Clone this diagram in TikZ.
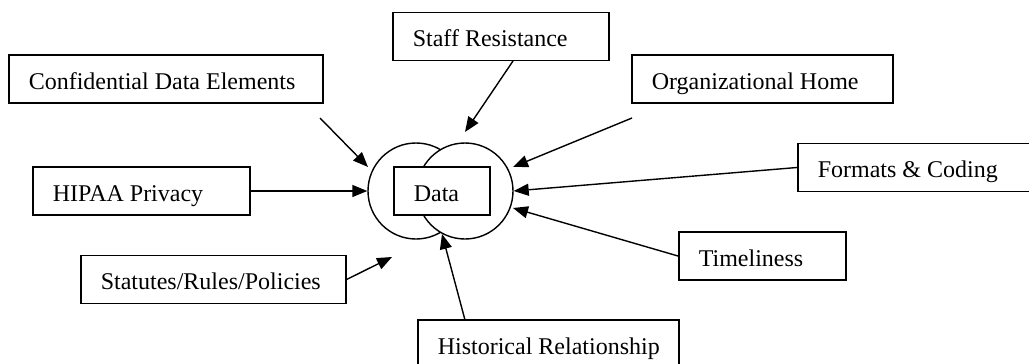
\documentclass[tikz,border=0pt]{standalone}
\usepackage{fontspec}
\setmainfont{Liberation Serif}
\usetikzlibrary{arrows.meta,calc}
\newcommand{\bx}[2]{\makebox[#1pt][l]{#2}}
\begin{document}
\begin{tikzpicture}[x=1pt,y=-1pt,
  box/.style={draw,line width=1.6pt,fill=white,anchor=west,minimum height=48pt,
    inner xsep=20pt,inner ysep=0pt,text height=20pt,text depth=0pt,
    font=\fontsize{24}{26}\selectfont},
  ring/.style={draw,line width=1.4pt,fill=white,circle,minimum size=96pt,inner sep=0pt},
  arr/.style={line width=1.4pt,-{Triangle[length=15pt,width=12pt]}}]
\useasboundingbox (0,0) rectangle (1029,364);
\clip (0,0) rectangle (1029,364);
% boxes
\node[box] (conf) at (8,79) {\bx{274}{Confidential Data Elements}};
\node[box] (staff) at (392,36.5) {\bx{176}{Staff Resistance}};
\node[box] (org) at (631,79) {\bx{221}{Organizational Home}};
\node[box] (hipaa) at (32,191) {\bx{177}{HIPAA Privacy}};
\node[box] (fmt) at (797,167.5) {\bx{200}{Formats \& Coding}};
\node[box] (time) at (678,256) {\bx{127}{Timeliness}};
\node[box] (stat) at (80,279.5) {\bx{225}{Statutes/Rules/Policies}};
\node[box] (hist) at (417,344) {\bx{221}{Historical Relationship}};
% circles and data
\node[ring] (cl) at (416,191) {};
\node[ring] (cr) at (465,191) {};
\node[box] (data) at (393,191) {\bx{56}{Data}};
% free ends
\coordinate (confS) at (320,118);
\coordinate (confE) at (368,167);
\coordinate (staffS) at (513,61);
\coordinate (staffE) at (465,132);
\coordinate (orgS) at (632,118);
\coordinate (orgE) at (513,167);
\coordinate (timeE) at (513,208);
\coordinate (statE) at (392,257);
\coordinate (histS) at (465,320);
\coordinate (histE) at (442,234);
% arrows
\draw[arr] (confS) -- (confE);
\draw[arr] (staffS) -- (staffE);
\draw[arr] (orgS) -- (orgE);
\draw[arr] (hipaa.east) -- (cl.west);
\draw[arr] (fmt.west) -- (cr.east);
\draw[arr] (time.west) -- (timeE);
\draw[arr] (stat.east) -- (statE);
\draw[arr] (histS) -- (histE);
\end{tikzpicture}
\end{document}
